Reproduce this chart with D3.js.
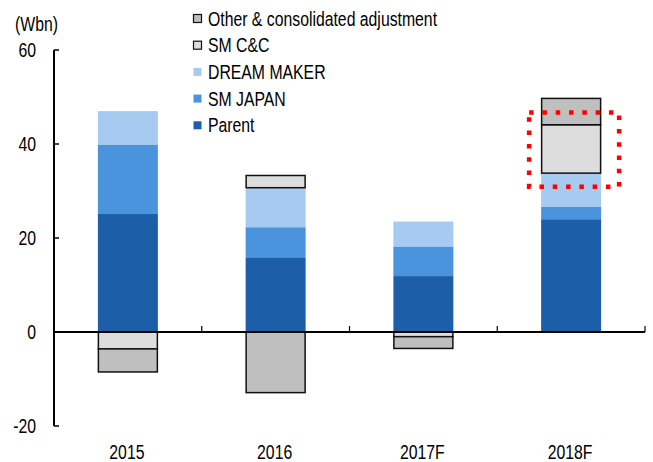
<!DOCTYPE html>
<html><head><meta charset="utf-8">
<script src="https://cdn.jsdelivr.net/npm/d3@7"></script>
<style>
html,body{margin:0;padding:0;background:#fff;}
svg text{font-family:"Liberation Sans",Arial,sans-serif;fill:#000;font-size:19.5px;}
</style></head>
<body><svg id="chart" width="653" height="462"></svg>
<script>
const categories = ["2015", "2016", "2017F", "2018F"];
const seriesNames = ["Parent", "SM JAPAN", "DREAM MAKER", "SM C&C", "Other & consolidated adjustment"];
const parent     = [25.1, 15.9, 11.9, 24.0];
const smJapan    = [14.8, 6.4, 6.3, 2.6];
const dreamMaker = [7.1, 8.4, 5.3, 7.2];
const smCC       = [-3.6, 2.6, -1.0, 10.3];
const other      = [-4.9, -12.9, -2.5, 5.6];
const yTicks = [-20, 0, 20, 40, 60];
const unitLabel = "(Wbn)";
const legendOrder = ["Other & consolidated adjustment", "SM C&C", "DREAM MAKER", "SM JAPAN", "Parent"];

const colors = {
  "Parent": "#1c5fa8",
  "SM JAPAN": "#4a94de",
  "DREAM MAKER": "#a6caf0",
  "SM C&C": "#dddddd",
  "Other & consolidated adjustment": "#bfbfbf"
};
const outlined = {"SM C&C": true, "Other & consolidated adjustment": true};

const valuesBySeries = [parent, smJapan, dreamMaker, smCC, other];
const table = categories.map((c, i) => {
  const row = {cat: c};
  seriesNames.forEach((s, k) => row[s] = valuesBySeries[k][i]);
  return row;
});

const svg = d3.select("#chart");
const W = 653, H = 462;
const m = {left: 54, right: 8, top: 50, bottom: 36};
const SX = 0.81; // narrow-font emulation

function label(sel, x, y, txt, anchor) {
  return sel.append("text")
    .attr("transform", `translate(${x},${y}) scale(${SX},1)`)
    .attr("text-anchor", anchor || "start")
    .text(txt);
}

const x = d3.scaleBand().domain(categories).range([m.left, W - m.right]).padding(0);
const y = d3.scaleLinear().domain([-20, 60]).range([H - m.bottom, m.top]);
const barW = x.bandwidth() * 0.406;
const bx = c => x(c) + (x.bandwidth() - barW) / 2;

const stack = d3.stack().keys(seriesNames).offset(d3.stackOffsetDiverging);
const layers = stack(table);

const g = svg.append("g");
layers.forEach(layer => {
  const s = layer.key;
  g.selectAll(null).data(layer).join("rect")
    .attr("x", d => bx(d.data.cat) + (outlined[s] ? 0.5 : 0))
    .attr("width", barW - (outlined[s] ? 1 : 0))
    .attr("y", d => y(Math.max(d[0], d[1])))
    .attr("height", d => Math.abs(y(d[0]) - y(d[1])))
    .attr("fill", colors[s])
    .attr("stroke", outlined[s] ? "#111" : "none")
    .attr("stroke-width", outlined[s] ? 1.5 : 0);
});

// y axis
svg.append("line").attr("x1", m.left).attr("x2", m.left).attr("y1", y(60)).attr("y2", y(-20))
  .attr("stroke", "#000").attr("stroke-width", 2);
svg.append("g").selectAll("line").data(yTicks).join("line")
  .attr("x1", m.left).attr("x2", m.left + 5).attr("y1", d => y(d)).attr("y2", d => y(d))
  .attr("stroke", "#000").attr("stroke-width", 1.5);
const yl = svg.append("g");
yTicks.forEach(t => label(yl, 36, y(t) + 7, String(t), "end"));

// x axis at zero
svg.append("line").attr("x1", m.left).attr("x2", W - m.right).attr("y1", y(0)).attr("y2", y(0))
  .attr("stroke", "#000").attr("stroke-width", 2);
svg.append("g").selectAll("line").data(categories).join("line")
  .attr("x1", d => x(d) + x.bandwidth()).attr("x2", d => x(d) + x.bandwidth())
  .attr("y1", y(0)).attr("y2", y(0) - 6)
  .attr("stroke", "#000").attr("stroke-width", 1.2);
const xl = svg.append("g");
categories.forEach(c => label(xl, x(c) + x.bandwidth() / 2 - 1, H - 3, c, "middle"));

label(svg, 15, 31, unitLabel);

// legend
const lg = svg.append("g").attr("transform", "translate(193,0)");
legendOrder.forEach((s, i) => {
  const cy = 18.5 + i * 26.7;
  lg.append("rect").attr("x", 0.5).attr("y", cy - 4).attr("width", 8).attr("height", 8)
    .attr("fill", colors[s]).attr("stroke", outlined[s] ? "#111" : "none").attr("stroke-width", 1.2);
  label(lg, 15, cy + 7, s);
});

// red dotted highlight around 2018F SM C&C block
const hc = "2018F";
svg.append("rect")
  .attr("x", bx(hc) - 12).attr("width", barW + 30)
  .attr("y", y(46.7)).attr("height", y(30.9) - y(46.7))
  .attr("fill", "none").attr("stroke", "#ff0000").attr("stroke-width", 4.5)
  .attr("stroke-dasharray", "4.5 8.8");
</script></body></html>
